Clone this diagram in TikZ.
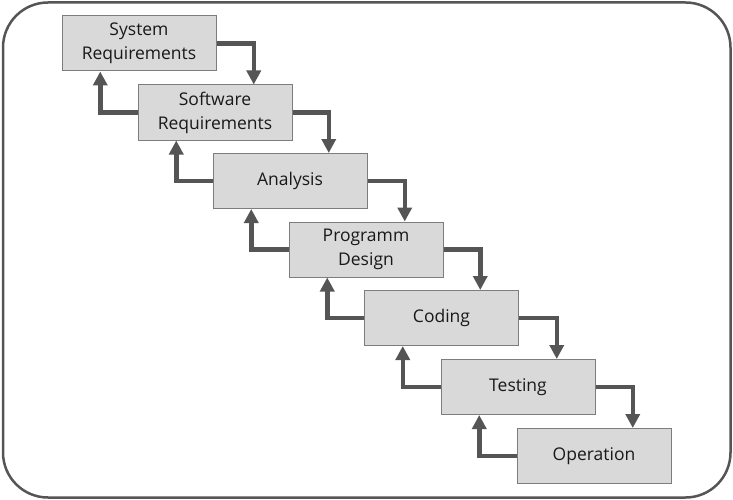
\documentclass[tikz,border=0pt]{standalone}
\usepackage{fontspec}
\setmainfont{Open Sans}
\usepackage{tikz}
\usetikzlibrary{arrows.meta,calc,positioning}
\definecolor{stepfill}{RGB}{217,217,217}
\definecolor{stepline}{RGB}{125,125,125}
\definecolor{flowgray}{RGB}{85,85,85}
\definecolor{textgray}{RGB}{25,25,25}
\tikzset{
  stage/.style={draw=stepline,line width=1pt,fill=stepfill,minimum width=154pt,minimum height=55pt,
    align=center,text=textgray,font=\fontsize{17.5}{24}\selectfont},
  down/.style={draw=flowgray,line width=4.5pt,-{Triangle[length=14pt,width=14pt]}},
  back/.style={draw=flowgray,line width=4.5pt,-{Triangle[length=14pt,width=14pt]}}
}

\begin{document}
\begin{tikzpicture}[x=1pt,y=-1pt]
\useasboundingbox (0,0) rectangle (733,500);
\draw[draw=flowgray,line width=2.5pt,rounded corners=45pt] (3,2.5) rectangle (730.5,497.5);

\node[stage] (sysreq) at (139,43.5) {System\\Requirements};
\node[stage] (swreq) at (215,112.5) {Software\\Requirements};
\node[stage] (analysis) at (290,181) {Analysis};
\node[stage] (design) at (366,249.5) {Programm\\Design};
\node[stage] (coding) at (441.5,318) {Coding};
\node[stage] (testing) at (518,387) {Testing};
\node[stage] (operation) at (594,456) {Operation};

%\node at (0,0) {};
\draw[down] (sysreq.east) -| ($(swreq.north west)!0.75!(swreq.north east)$);
\draw[down] (swreq.east) -| ($(analysis.north west)!0.75!(analysis.north east)$);
\draw[down] (analysis.east) -| ($(design.north west)!0.75!(design.north east)$);
\draw[down] (design.east) -| ($(coding.north west)!0.75!(coding.north east)$);
\draw[down] (coding.east) -| ($(testing.north west)!0.75!(testing.north east)$);
\draw[down] (testing.east) -| ($(operation.north west)!0.75!(operation.north east)$);

\draw[back] (swreq.west) -| ($(sysreq.south west)!0.25!(sysreq.south east)$);
\draw[back] (analysis.west) -| ($(swreq.south west)!0.25!(swreq.south east)$);
\draw[back] (design.west) -| ($(analysis.south west)!0.25!(analysis.south east)$);
\draw[back] (coding.west) -| ($(design.south west)!0.25!(design.south east)$);
\draw[back] (testing.west) -| ($(coding.south west)!0.25!(coding.south east)$);
\draw[back] (operation.west) -| ($(testing.south west)!0.25!(testing.south east)$);
\end{tikzpicture}
\end{document}
